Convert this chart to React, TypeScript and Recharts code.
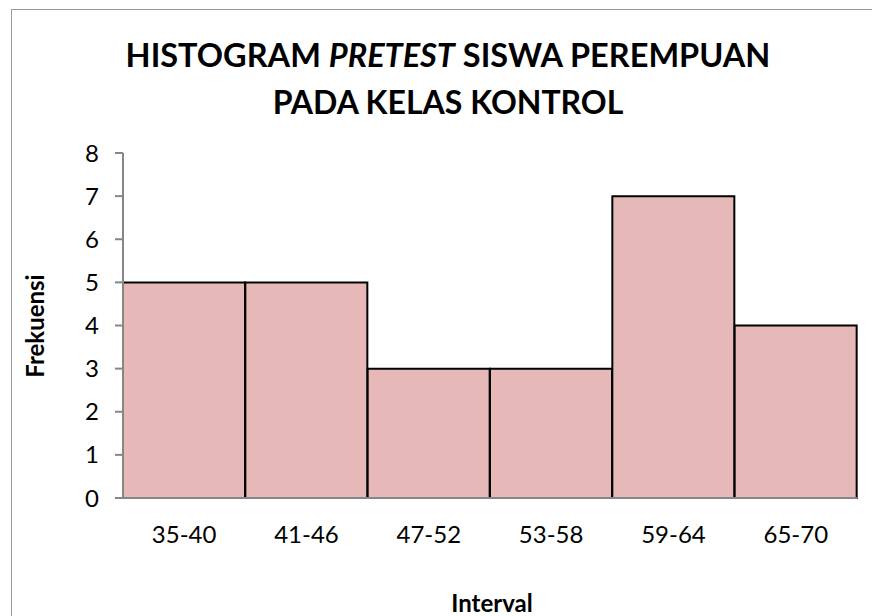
import React from 'react';
import { BarChart, Bar, XAxis, YAxis, Label } from 'recharts';

const categories = ['35-40', '41-46', '47-52', '53-58', '59-64', '65-70'];
const frequencies = [5, 5, 3, 3, 7, 4];
const yTicks = [0, 1, 2, 3, 4, 5, 6, 7, 8];

const data = categories.map((c, i) => ({ interval: c, freq: frequencies[i] }));

const FONT = 'Lato, "Open Sans", sans-serif';

export default function App() {
  return (
    <div style={{ position: 'absolute', left: 0, top: 0, width: 872, height: 616, overflow: 'hidden', background: '#fff', fontFamily: FONT }}>
      <div style={{ position: 'absolute', left: 11, top: 9, width: 900, height: 700, border: '1px solid #999', boxSizing: 'border-box' }} />
      <div style={{ position: 'absolute', left: 0, top: 0 }}>
        <BarChart
          width={872}
          height={616}
          data={data}
          margin={{ top: 153, right: 15, left: 0, bottom: 0 }}
          barCategoryGap={0}
          barGap={0}
        >
          <text x={448} y={67} textAnchor="middle" fontFamily={FONT} fontWeight="bold" fontSize={32.5} fill="#000">
            <tspan>HISTOGRAM </tspan>
            <tspan fontStyle="italic">PRETEST</tspan>
            <tspan> SISWA PEREMPUAN</tspan>
          </text>
          <text x={448} y={114} textAnchor="middle" fontFamily={FONT} fontWeight="bold" fontSize={32} fill="#000">
            PADA KELAS KONTROL
          </text>
          <XAxis
            dataKey="interval"
            height={118}
            axisLine={{ stroke: '#868686', strokeWidth: 2 }}
            tickLine={false}
            tickSize={0}
            tickMargin={28}
            tick={{ fill: '#000', fontSize: 24, fontFamily: FONT }}
            interval={0}
          >
            <Label
              content={() => (
                <text x={492} y={612} textAnchor="middle" fontFamily={FONT} fontWeight="bold" fontSize={24} fill="#000">
                  Interval
                </text>
              )}
            />
          </XAxis>
          <YAxis
            width={123}
            domain={[0, 8]}
            ticks={yTicks}
            interval={0}
            axisLine={{ stroke: '#868686', strokeWidth: 2 }}
            tickLine={{ stroke: '#868686', strokeWidth: 2 }}
            tickSize={8}
            tickMargin={16}
            tick={{ fill: '#000', fontSize: 24, fontFamily: FONT }}
          >
            <Label
              content={() => (
                <text
                  x={44}
                  y={326}
                  textAnchor="middle"
                  transform="rotate(-90 44 326)"
                  fontFamily={FONT}
                  fontWeight="bold"
                  fontSize={24}
                  fill="#000"
                >
                  Frekuensi
                </text>
              )}
            />
          </YAxis>
          <Bar dataKey="freq" fill="#E6B9B8" stroke="#000" strokeWidth={2} isAnimationActive={false} />
        </BarChart>
      </div>
    </div>
  );
}
